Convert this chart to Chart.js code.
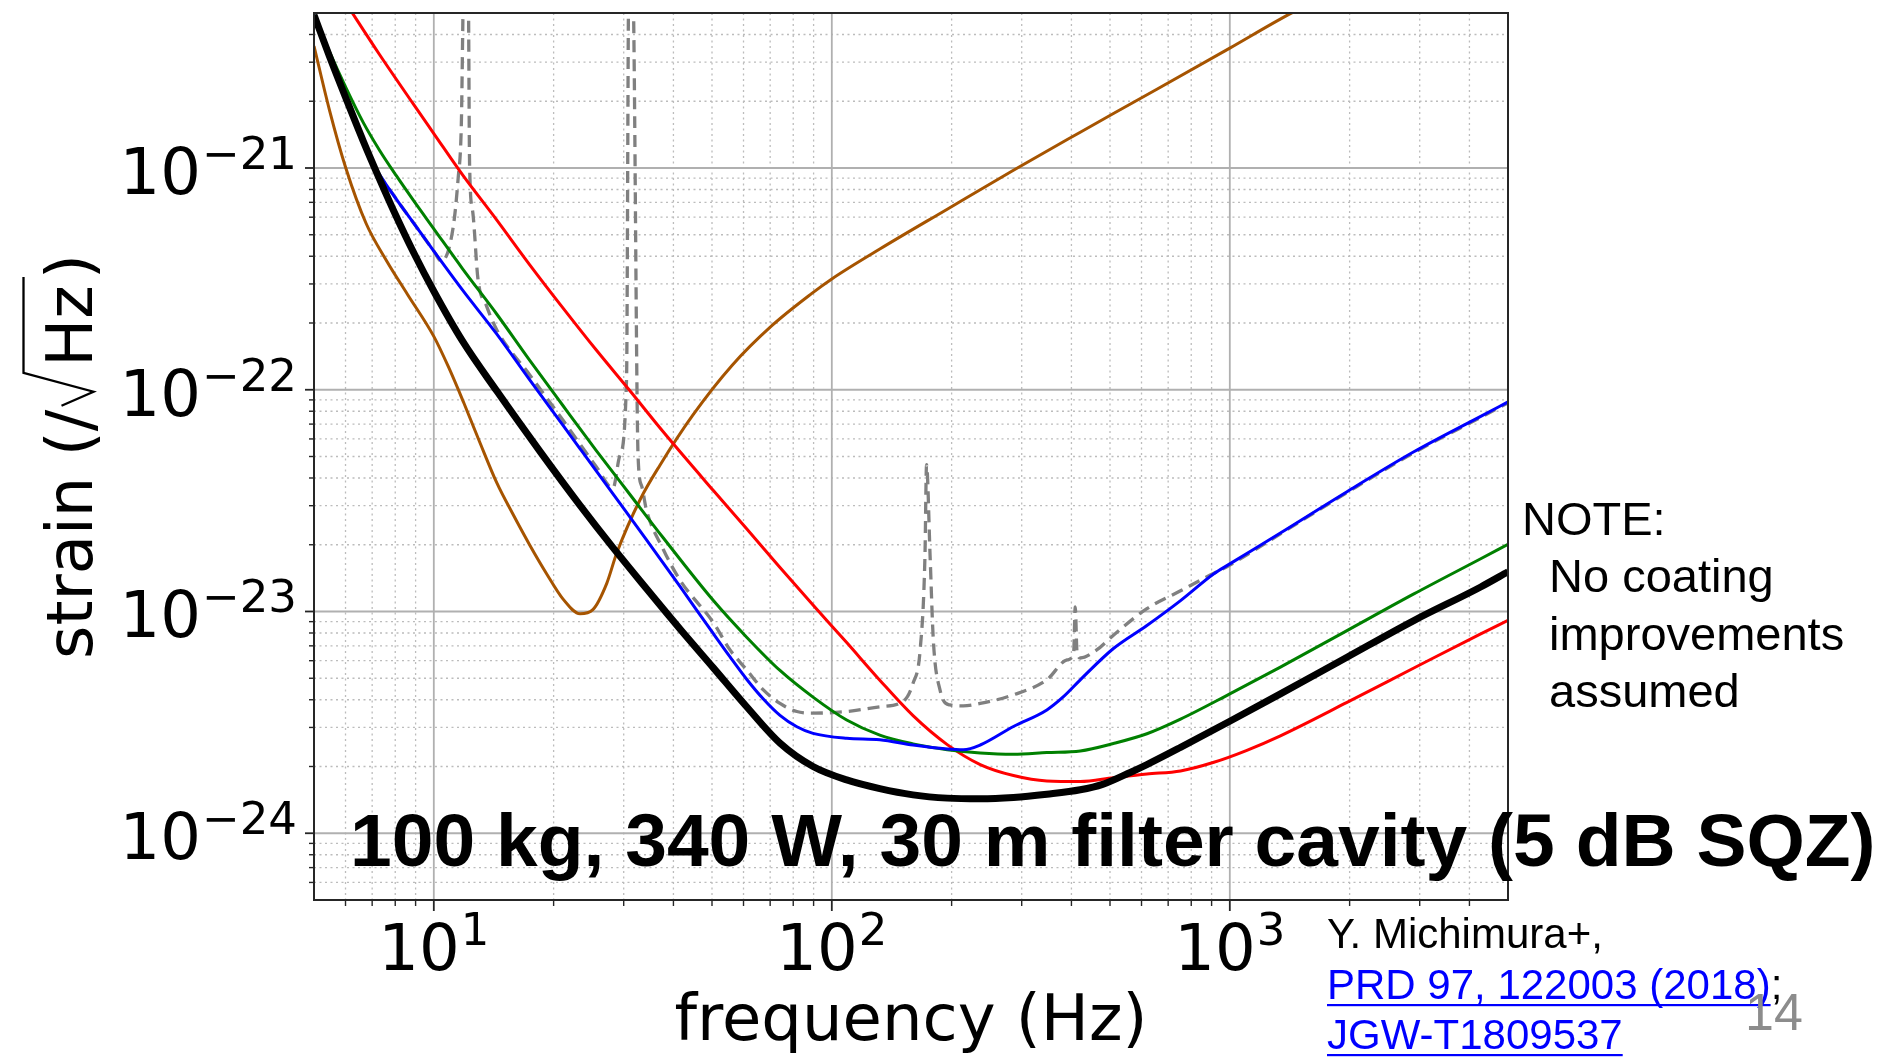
<!DOCTYPE html>
<html>
<head>
<meta charset="utf-8">
<title>KAGRA sensitivity</title>
<script src="https://cdn.jsdelivr.net/npm/chart.js@4.4.1/dist/chart.umd.min.js"></script>
<style>
  html, body { margin: 0; padding: 0; background: #ffffff; }
  canvas { display: block; }
</style>
</head>
<body>
<canvas id="chart" width="1880" height="1058"></canvas>
<script>
// Axis limits
const freqMin = 5, freqMax = 5000;
const strainMin = 5e-25, strainMax = 5e-21;

// Tick positions and labels
const xMajorTicks = [10, 100, 1000];
const xTickExp = ['1', '2', '3'];
const xMinorTicks = [6, 7, 8, 9, 20, 30, 40, 50, 60, 70, 80, 90,
  200, 300, 400, 500, 600, 700, 800, 900, 2000, 3000, 4000];
const yMajorTicks = [1e-24, 1e-23, 1e-22, 1e-21];
const yTickExp = ['\u221224', '\u221223', '\u221222', '\u221221'];
const yMinorTicks = [6e-25, 7e-25, 8e-25, 9e-25,
  2e-24, 3e-24, 4e-24, 5e-24, 6e-24, 7e-24, 8e-24, 9e-24,
  2e-23, 3e-23, 4e-23, 5e-23, 6e-23, 7e-23, 8e-23, 9e-23,
  2e-22, 3e-22, 4e-22, 5e-22, 6e-22, 7e-22, 8e-22, 9e-22,
  2e-21, 3e-21, 4e-21];

// Total: 100 kg, 340 W, 30 m filter cavity, 5 dB squeezing (black)
const blackFreq = [5, 5.47, 6.03, 6.64, 7.31, 8.05, 8.87, 10, 11.8, 14.4, 18.5, 23.3, 28.2, 34.2,
  41.5, 50.4, 61.1, 74.1, 89.7, 109, 132, 160, 195, 236, 286, 347, 421, 479, 562, 619, 752,
  1000, 1340, 1970, 2900, 4270, 5000];
const blackStrain = [4.90e-21, 3.18e-21, 2.04e-21, 1.33e-21, 8.89e-22, 6.04e-22, 4.20e-22, 2.78e-22,
  1.66e-22, 9.86e-23, 5.26e-23, 3.01e-23, 1.94e-23, 1.27e-23, 8.36e-24, 5.57e-24, 3.72e-24,
  2.55e-24, 2.00e-24, 1.74e-24, 1.59e-24, 1.49e-24, 1.44e-24, 1.43e-24, 1.45e-24, 1.50e-24,
  1.57e-24, 1.66e-24, 1.88e-24, 2.04e-24, 2.44e-24, 3.20e-24, 4.25e-24, 6.22e-24, 9.10e-24,
  1.29e-23, 1.51e-23];

// Blue configuration
const blueFreq = [5, 5.47, 6.03, 6.64, 7.03, 8.05, 8.87, 10, 11.8, 14.4, 17.4, 21.1, 23.5, 28.2,
  34.2, 41.5, 50.4, 55.5, 61.1, 67.3, 74.1, 81.7, 89.7, 109, 132, 160, 195, 214, 236, 286, 347,
  382, 421, 510, 619, 752, 912, 1000, 1340, 1970, 2900, 4270, 5000];
const blueStrain = [4.90e-21, 3.18e-21, 2.04e-21, 1.33e-21, 1.05e-21, 7.24e-22, 5.69e-22, 4.22e-22,
  2.82e-22, 1.78e-22, 1.11e-22, 6.92e-23, 5.31e-23, 3.39e-23, 2.11e-23, 1.30e-23, 7.94e-24,
  6.24e-24, 4.95e-24, 4.03e-24, 3.40e-24, 3.02e-24, 2.82e-24, 2.68e-24, 2.64e-24, 2.50e-24,
  2.40e-24, 2.38e-24, 2.50e-24, 3.03e-24, 3.60e-24, 4.13e-24, 4.92e-24, 6.81e-24, 8.65e-24,
  1.12e-23, 1.48e-23, 1.64e-23, 2.26e-23, 3.47e-23, 5.25e-23, 7.59e-23, 8.81e-23];

// Green configuration
const greenFreq = [5, 5.47, 6.03, 6.64, 7.31, 8.05, 8.87, 10, 11.8, 14.4, 17.4, 21.1, 25.6, 31.1,
  37.7, 50.4, 61.1, 74.1, 89.7, 109, 132, 160, 195, 236, 286, 347, 421, 510, 619, 752, 1000,
  1340, 1970, 2900, 4270, 5000];
const greenStrain = [4.90e-21, 3.34e-21, 2.28e-21, 1.61e-21, 1.20e-21, 9.23e-22, 7.18e-22, 5.32e-22,
  3.52e-22, 2.19e-22, 1.36e-22, 8.49e-23, 5.32e-23, 3.37e-23, 2.15e-23, 1.12e-23, 7.66e-24,
  5.42e-24, 4.11e-24, 3.24e-24, 2.77e-24, 2.53e-24, 2.38e-24, 2.30e-24, 2.27e-24, 2.31e-24,
  2.35e-24, 2.54e-24, 2.81e-24, 3.27e-24, 4.25e-24, 5.61e-24, 8.20e-24, 1.20e-23, 1.73e-23, 2.01e-23];

// Red configuration
const redFreq = [6.03, 7.31, 8.87, 10, 11.8, 14.4, 17.4, 21.1, 25.6, 31.1, 37.7, 50.4, 61.1, 74.1,
  89.7, 109, 132, 160, 195, 236, 286, 347, 421, 510, 619, 752, 912, 1100, 1340, 1970, 2900, 4270, 5000];
const redStrain = [5.50e-21, 3.24e-21, 1.95e-21, 1.43e-21, 9.33e-22, 5.82e-22, 3.67e-22, 2.34e-22,
  1.51e-22, 9.89e-23, 6.46e-23, 3.51e-23, 2.36e-23, 1.58e-23, 1.07e-23, 7.24e-24, 4.90e-24,
  3.39e-24, 2.51e-24, 2.04e-24, 1.82e-24, 1.72e-24, 1.71e-24, 1.78e-24, 1.85e-24, 1.91e-24,
  2.09e-24, 2.36e-24, 2.75e-24, 3.89e-24, 5.56e-24, 7.93e-24, 9.12e-24];

// Brown configuration
const brownFreq = [5, 5.47, 6.01, 6.76, 7.62, 8.59, 10, 10.9, 11.9, 13.0, 14.4, 15.8, 17.4,
  19.2, 21.1, 23.3, 25.1, 27.2, 28.8, 33.0, 37.0, 44.7, 56.2, 70.8, 89.1, 100, 132, 195, 286,
  421, 510, 1000, 1400, 1590];
const brownStrain = [3.55e-21, 1.82e-21, 1.00e-21, 5.62e-22, 3.80e-22, 2.69e-22, 1.74e-22, 1.26e-22,
  8.71e-23, 5.89e-23, 3.80e-23, 2.75e-23, 2.00e-23, 1.48e-23, 1.14e-23, 9.77e-24,
  1.02e-23, 1.34e-23, 1.83e-23, 3.20e-23, 4.57e-23, 7.66e-23, 1.29e-22, 1.95e-22, 2.72e-22,
  3.16e-22, 4.31e-22, 6.52e-22, 9.77e-22, 1.45e-21, 1.76e-21, 3.47e-21, 4.90e-21, 5.50e-21];

// Grey dashed reference curve with suspension resonances
const greyFreq = [5, 5.47, 6.03, 6.64, 7.03, 8.05, 8.87, 10, 10.45, 11.17, 11.51, 11.72, 11.9, 12.2,
  12.3, 12.53, 12.91, 13.55, 14.4, 17.4, 21.1, 25.6, 28.2, 29.3, 30.5, 30.9, 31.6, 32.6, 33.3,
  34.2, 37.7, 41.5, 50.4, 55.5, 61.1, 67.3, 74.1, 81.7, 89.7, 109, 132, 151, 160, 166.7, 171.4,
  173, 176.6, 179.9, 187, 198, 214, 236, 286, 347, 390, 405, 409, 413, 421, 463, 510, 619, 752,
  893, 1000, 1340, 1970, 2900, 4270, 5000];
const greyStrain = [4.90e-21, 3.18e-21, 2.04e-21, 1.33e-21, 1.05e-21, 7.24e-22, 5.69e-22, 4.22e-22,
  3.80e-22, 5.32e-22, 8.95e-22, 1.51e-21, 7e-21, 7e-21, 1.03e-21, 6.32e-22, 3.16e-22, 2.40e-22,
  1.86e-22, 1.17e-22, 7.30e-23, 4.50e-23, 3.60e-23, 5.01e-23, 1.12e-22, 7e-21, 7e-21, 5.01e-23,
  3.67e-23, 2.88e-23, 1.91e-23, 1.39e-23, 8.91e-24, 6.71e-24, 5.46e-24, 4.43e-24, 3.85e-24,
  3.54e-24, 3.48e-24, 3.54e-24, 3.72e-24, 3.93e-24, 4.75e-24, 6.71e-24, 1.77e-23, 4.59e-23,
  1.77e-23, 7.45e-24, 4.43e-24, 3.79e-24, 3.75e-24, 3.85e-24, 4.21e-24, 4.92e-24, 6.05e-24,
  6.46e-24, 1.05e-23, 6.61e-24, 6.17e-24, 6.71e-24, 7.82e-24, 1.03e-23, 1.24e-23, 1.46e-23,
  1.62e-23, 2.24e-23, 3.44e-23, 5.20e-23, 7.51e-23, 8.72e-23];

function points(freq, strain) {
  return freq.map((f, i) => ({ x: f, y: strain[i] }));
}

function series(freq, strain, color, width, dash) {
  return {
    data: points(freq, strain),
    borderColor: color,
    borderWidth: width,
    borderDash: dash || [],
    fill: false,
    pointRadius: 0,
    cubicInterpolationMode: 'monotone',
    clip: 0
  };
}

const TICK_FONT = '"DejaVu Sans", sans-serif';
const TEXT_FONT = '"Liberation Sans", Arial, sans-serif';

function line(ctx, x1, y1, x2, y2) {
  ctx.beginPath(); ctx.moveTo(x1, y1); ctx.lineTo(x2, y2); ctx.stroke();
}

// "10" with a raised exponent
function drawPower(ctx, exp, anchorX, baseY, align) {
  ctx.font = '64px ' + TICK_FONT;
  const wb = ctx.measureText('10').width;
  ctx.font = '45px ' + TICK_FONT;
  const we = ctx.measureText(exp).width;
  const total = wb + 1 + we;
  const start = align === 'right' ? anchorX - total : anchorX - total / 2;
  ctx.font = '64px ' + TICK_FONT;
  ctx.fillText('10', start, baseY);
  ctx.font = '45px ' + TICK_FONT;
  ctx.fillText(exp, start + wb + 1, baseY - 25);
}

const framePlugin = {
  id: 'frame',
  beforeDatasetsDraw(chart) {
    const { ctx, chartArea: a, scales: { x, y } } = chart;
    ctx.save();
    ctx.beginPath();
    ctx.rect(a.left, a.top, a.right - a.left, a.bottom - a.top);
    ctx.clip();
    // minor grid, dotted
    ctx.strokeStyle = '#bcbcbc';
    ctx.lineWidth = 1.3;
    ctx.setLineDash([2, 3.5]);
    xMinorTicks.forEach(v => { const p = x.getPixelForValue(v); line(ctx, p, a.top, p, a.bottom); });
    yMinorTicks.forEach(v => { const p = y.getPixelForValue(v); line(ctx, a.left, p, a.right, p); });
    // major grid, solid
    ctx.setLineDash([]);
    ctx.strokeStyle = '#b0b0b0';
    ctx.lineWidth = 1.8;
    xMajorTicks.forEach(v => { const p = x.getPixelForValue(v); line(ctx, p, a.top, p, a.bottom); });
    yMajorTicks.forEach(v => { const p = y.getPixelForValue(v); line(ctx, a.left, p, a.right, p); });
    ctx.restore();
  },
  afterDraw(chart) {
    const { ctx, chartArea: a, scales: { x, y } } = chart;
    ctx.save();
    // frame
    ctx.strokeStyle = '#262626';
    ctx.lineWidth = 2;
    ctx.strokeRect(a.left, a.top, a.right - a.left, a.bottom - a.top);
    // tick marks
    ctx.lineWidth = 1.8;
    xMajorTicks.forEach(v => { const p = x.getPixelForValue(v); line(ctx, p, a.bottom, p, a.bottom + 11); });
    yMajorTicks.forEach(v => { const p = y.getPixelForValue(v); line(ctx, a.left - 9, p, a.left, p); });
    ctx.lineWidth = 1.4;
    xMinorTicks.forEach(v => { const p = x.getPixelForValue(v); line(ctx, p, a.bottom, p, a.bottom + 6); });
    yMinorTicks.forEach(v => { const p = y.getPixelForValue(v); line(ctx, a.left - 5, p, a.left, p); });

    // tick labels
    ctx.fillStyle = '#000';
    ctx.textBaseline = 'alphabetic';
    ctx.textAlign = 'left';
    xMajorTicks.forEach((v, i) => drawPower(ctx, xTickExp[i], x.getPixelForValue(v), 970, 'center'));
    yMajorTicks.forEach((v, i) => drawPower(ctx, yTickExp[i], a.left - 17, y.getPixelForValue(v) + 26, 'right'));

    // x axis title
    ctx.font = '64px ' + TICK_FONT;
    ctx.textAlign = 'center';
    ctx.fillText('frequency (Hz)', (a.left + a.right) / 2, 1040);
    ctx.textAlign = 'left';

    // y axis title with radical sign
    ctx.save();
    const tW1 = ctx.measureText('strain (/').width;
    const tWHz = ctx.measureText('Hz').width;
    const tWp = ctx.measureText(')').width;
    const hzX = tW1 + 43;
    const totalLen = hzX + tWHz + 6 + tWp;
    ctx.translate(91.5, (a.top + a.bottom) / 2 + totalLen / 2);
    ctx.rotate(-Math.PI / 2);
    ctx.fillText('strain (/', 0, 0);
    ctx.fillText('Hz', hzX, 0);
    ctx.fillText(')', hzX + tWHz + 6, 0);
    ctx.strokeStyle = '#000';
    ctx.lineWidth = 2.3;
    ctx.lineJoin = 'miter';
    ctx.beginPath();
    ctx.moveTo(tW1 + 4, -30);
    ctx.lineTo(tW1 + 18, 2);
    ctx.lineTo(tW1 + 37, -68);
    ctx.lineTo(hzX + tWHz + 8, -68);
    ctx.stroke();
    ctx.restore();

    // configuration caption
    ctx.fillStyle = '#000';
    ctx.font = 'bold 75px ' + TEXT_FONT;
    ctx.fillText('100 kg, 340 W, 30 m filter cavity (5 dB SQZ)', 350, 866);

    // note
    ctx.font = '47px ' + TEXT_FONT;
    ctx.fillText('NOTE:', 1522, 535);
    ctx.fillText('No coating', 1549, 592);
    ctx.fillText('improvements', 1549, 650);
    ctx.fillText('assumed', 1549, 707);

    // reference
    ctx.font = '42px ' + TEXT_FONT;
    ctx.fillText('Y. Michimura+,', 1327, 948);
    const linkColor = '#0000ff';
    const refs = [['PRD 97, 122003 (2018)', 999], ['JGW-T1809537', 1049]];
    refs.forEach(([t, by]) => {
      ctx.fillStyle = linkColor;
      ctx.fillText(t, 1327, by);
      const w = ctx.measureText(t).width;
      ctx.fillRect(1327, by + 5, w, 2.2);
    });
    ctx.fillStyle = '#000';
    ctx.fillText(';', 1327 + ctx.measureText('PRD 97, 122003 (2018)').width, 999);

    // page number
    ctx.fillStyle = '#8c8c8c';
    ctx.font = '52px ' + TEXT_FONT;
    ctx.fillText('14', 1745, 1030);
    ctx.restore();
  }
};

new Chart(document.getElementById('chart').getContext('2d'), {
  type: 'line',
  data: {
    datasets: [
      series(blackFreq, blackStrain, '#000000', 7),
      series(blueFreq, blueStrain, '#0000ff', 3),
      series(greenFreq, greenStrain, '#008000', 3),
      series(redFreq, redStrain, '#ff0000', 3),
      series(brownFreq, brownStrain, '#a65400', 3),
      series(greyFreq, greyStrain, '#808080', 3.3, [12, 7])
    ]
  },
  options: {
    responsive: false,
    animation: false,
    devicePixelRatio: 1,
    layout: { padding: { left: 0, top: 13, right: 372, bottom: 0 } },
    plugins: { legend: { display: false }, tooltip: { enabled: false } },
    elements: { line: { borderCapStyle: 'butt', borderJoinStyle: 'round' } },
    scales: {
      x: {
        type: 'logarithmic', min: freqMin, max: freqMax,
        grid: { display: false }, border: { display: false }, ticks: { display: false },
        afterFit: s => { s.height = 158; }
      },
      y: {
        type: 'logarithmic', min: strainMin, max: strainMax,
        grid: { display: false }, border: { display: false }, ticks: { display: false },
        afterFit: s => { s.width = 314; }
      }
    }
  },
  plugins: [framePlugin]
});
</script>
</body>
</html>
